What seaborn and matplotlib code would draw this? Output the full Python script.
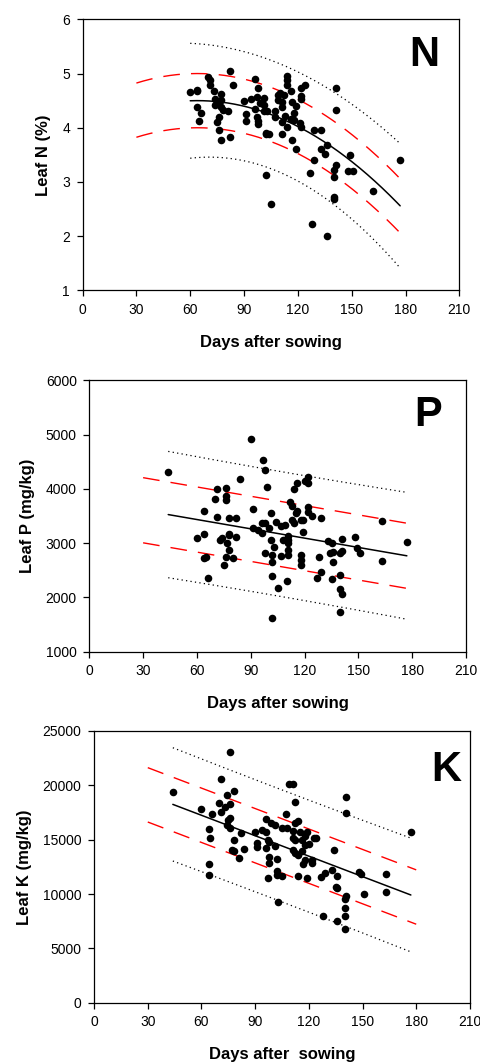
import numpy as np
import pandas as pd
import matplotlib
matplotlib.use("Agg")
import matplotlib.pyplot as plt
import seaborn as sns

# --- Leaf N (%) ---
n_days = [60, 64, 64, 64, 66, 65, 70, 71, 71, 73, 74, 74, 75, 76, 76, 77, 77, 77, 77, 78,
          76, 82, 84, 81, 82, 90, 91, 91, 94, 96, 96, 97, 98, 97, 98, 98, 99, 101, 101, 101,
          103, 102, 102, 102, 104, 105, 107, 107, 109, 109, 110, 111, 111, 111, 111, 112, 113,
          114, 114, 114, 114, 116, 116, 117, 117, 118, 118, 119, 119, 121, 122, 122, 122, 124,
          122, 128, 127, 129, 129, 133, 133, 135, 136, 136, 140, 140, 141, 140, 140, 141, 141,
          148, 149, 151, 162, 177]
n_leaf = [4.66, 4.68, 4.69, 4.38, 4.28, 4.12, 4.93, 4.88, 4.78, 4.67, 4.53, 4.42, 4.11, 4.20,
          3.95, 3.77, 4.63, 4.51, 4.39, 4.33, 4.45, 5.05, 4.78, 4.30, 3.82, 4.49, 4.25, 4.13,
          4.53, 4.89, 4.35, 4.57, 4.73, 4.20, 4.06, 4.13, 4.45, 4.54, 4.42, 4.31, 4.30, 3.91,
          3.88, 3.12, 3.88, 2.59, 4.31, 4.19, 4.60, 4.51, 4.65, 3.88, 4.39, 4.48, 4.11, 4.60,
          4.22, 4.95, 4.88, 4.79, 4.02, 4.68, 4.17, 4.48, 3.77, 4.14, 4.27, 4.40, 3.60, 4.08,
          4.59, 4.53, 4.73, 4.79, 4.01, 2.23, 3.16, 3.96, 3.40, 3.96, 3.61, 3.52, 3.68, 2.01,
          3.10, 3.22, 3.31, 2.73, 2.69, 4.74, 4.33, 3.21, 3.49, 3.20, 2.84, 3.40]

# --- Leaf P (mg/kg) ---
p_days = [44, 60, 64, 64, 64, 65, 66, 70, 71, 71, 73, 74, 75, 76, 76, 76, 76, 77, 78, 78,
          78, 78, 80, 82, 82, 84, 90, 91, 91, 94, 96, 97, 96, 98, 98, 98, 99, 101, 100, 101,
          102, 102, 102, 102, 103, 104, 105, 107, 107, 109, 108, 110, 111, 111, 111, 111, 111,
          112, 113, 113, 114, 114, 115, 116, 116, 118, 118, 118, 119, 119, 118, 120, 122, 122,
          122, 122, 124, 127, 128, 129, 129, 133, 134, 135, 136, 136, 135, 140, 140, 140, 141,
          140, 141, 141, 148, 149, 151, 163, 163, 177]
p_leaf = [4311, 3101, 3592, 3162, 2720, 2738, 2364, 3807, 3998, 3488, 3058, 3089, 2597, 4016,
          3875, 3789, 2750, 2996, 3150, 3168, 2873, 3469, 2720, 3119, 3463, 4176, 4925, 3635,
          3285, 3242, 3365, 4532, 3193, 4348, 3365, 2812, 4034, 3549, 3273, 3058, 2394, 2781,
          2658, 1614, 2935, 3396, 2179, 3322, 2763, 3334, 3058, 2308, 3058, 2996, 3131, 2873,
          2781, 3764, 3690, 3426, 3991, 3365, 3549, 4114, 3598, 3426, 2781, 2689, 3199, 3426,
          2597, 4145, 4213, 4102, 3672, 3580, 3506, 2352, 2738, 2462, 3457, 3039, 2812, 2333,
          2658, 2830, 3009, 2812, 2413, 2149, 2057, 1725, 3076, 2849, 3107, 2916, 2812, 3408,
          2665, 3015]

# --- Leaf K (mg/kg) ---
k_days = [44, 60, 64, 64, 64, 65, 66, 70, 71, 71, 73, 74, 74, 75, 76, 76, 76, 76, 77, 78,
          78, 78, 81, 82, 84, 90, 91, 91, 94, 96, 96, 96, 97, 98, 98, 97, 98, 99, 101, 101,
          102, 102, 102, 103, 105, 105, 107, 108, 109, 111, 111, 111, 111, 112, 112, 112, 112,
          114, 114, 114, 115, 116, 116, 117, 118, 118, 118, 119, 119, 120, 122, 122, 123, 124,
          127, 128, 129, 133, 134, 135, 136, 136, 136, 140, 140, 140, 140, 141, 141, 141, 148,
          149, 151, 163, 163, 177]
k_leaf = [19417, 17791, 15951, 12730, 11748, 15123, 17331, 18405, 20613, 17577, 18037, 19110,
          16350, 16810, 23067, 18282, 17025, 16043, 14049, 19448, 14969, 13988, 13313, 15583,
          14141, 15736, 14663, 14356, 15890, 16871, 14264, 15736, 14969, 12822, 13374, 11503,
          14755, 16503, 16350, 14448, 13190, 12147, 11748, 9294, 11687, 16074, 17331, 16104,
          20092, 20092, 15123, 14049, 15798, 18497, 14969, 13742, 16503, 16748, 13589, 11656,
          15736, 14969, 13988, 12730, 13129, 14509, 15337, 11503, 15736, 14571, 13129, 12883,
          15123, 15123, 11534, 7975, 11902, 12209, 14049, 10675, 10583, 11687, 7546, 9509, 8712,
          8006, 6810, 9816, 18896, 17454, 12055, 11840, 10000, 11840, 10184, 15736]

# fitted curves (np.polyval order), band half-widths, prediction-interval shape
n_fit = [-1.52e-4, 0.01946, 3.877]
p_fit = [-5.71, 3778]
k_fit = [-62.68, 21006]
n_band, p_band, k_band = 0.5, 600, 2500
n_pi = (1.0, 105, 128)      # half-width at centre, centre day, spread
p_pi = (1150, 105, 400)
k_pi = (5150, 105, 400)

sns.set_style("ticks")
plt.rcParams['font.family'] = ['Liberation Sans', 'DejaVu Sans']
plt.rcParams['axes.linewidth'] = 0.9
plt.rcParams.update({'text.color': 'black', 'axes.labelcolor': 'black',
                     'xtick.color': 'black', 'ytick.color': 'black',
                     'axes.edgecolor': 'black'})

fig = plt.figure(figsize=(4.8, 10.62), dpi=100)

panels = [
    dict(days=n_days, vals=n_leaf, fit=n_fit, band=n_band, pi=n_pi, letter='N',
         ylabel='Leaf N (%)', xlabel='Days after sowing', ylim=(1, 6), yticks=np.arange(1, 7, 1),
         pos=[0.172, 0.7266, 0.785, 0.2552], lpos=(0.906, 0.868)),
    dict(days=p_days, vals=p_leaf, fit=p_fit, band=p_band, pi=p_pi, letter='P',
         ylabel='Leaf P (mg/kg)', xlabel='Days after sowing', ylim=(1000, 6000),
         yticks=np.arange(1000, 6001, 1000),
         pos=[0.186, 0.3863, 0.785, 0.2556], lpos=(0.899, 0.872)),
    dict(days=k_days, vals=k_leaf, fit=k_fit, band=k_band, pi=k_pi, letter='K',
         ylabel='Leaf K (mg/kg)', xlabel='Days after  sowing', ylim=(0, 25000),
         yticks=np.arange(0, 25001, 5000),
         pos=[0.196, 0.0558, 0.783, 0.2559], lpos=(0.936, 0.856)),
]

for p in panels:
    ax = fig.add_axes(p['pos'])
    df = pd.DataFrame({'day': p['days'], 'val': p['vals']})
    x0, x1 = min(p['days']), max(p['days'])

    # fitted curve and prediction interval over the data range
    xs = np.linspace(x0, x1, 200)
    fit = np.polyval(p['fit'], xs)
    h0, xc, w = p['pi']
    hw = h0 * np.sqrt(1 + ((xs - xc) / w) ** 2)
    sns.lineplot(x=xs, y=fit, color='black', linewidth=1.1, ax=ax)
    for sgn in (1, -1):
        sns.lineplot(x=xs, y=fit + sgn * hw, color='black', linewidth=0.9,
                     linestyle=(0, (1, 2.6)), ax=ax)

    # band from 30 to 180 days
    xb = np.linspace(30, 180, 200)
    fb = np.polyval(p['fit'], xb)
    for sgn in (1, -1):
        sns.lineplot(x=xb, y=fb + sgn * p['band'], color='red', linewidth=1.0,
                     linestyle=(0, (12, 8)), ax=ax)

    sns.scatterplot(data=df, x='day', y='val', color='black', s=30, edgecolor='black',
                    linewidth=0, ax=ax, zorder=3)

    ax.set_xlim(0, 210)
    ax.set_ylim(*p['ylim'])
    ax.set_xticks(np.arange(0, 211, 30))
    ax.set_yticks(p['yticks'])
    ax.tick_params(direction='out', length=4, width=0.9, labelsize=10, pad=5)
    for s in ax.spines.values():
        s.set_visible(True)
        s.set_color('black')
    ax.set_xlabel(p['xlabel'], fontsize=12, fontweight='bold', labelpad=13)
    ax.set_ylabel(p['ylabel'], fontsize=12, fontweight='bold', labelpad=8)
    ax.text(p['lpos'][0], p['lpos'][1], p['letter'], transform=ax.transAxes,
            fontsize=30, fontweight='bold', ha='center', va='center', color='black')

fig.savefig('out.png', dpi=100)
